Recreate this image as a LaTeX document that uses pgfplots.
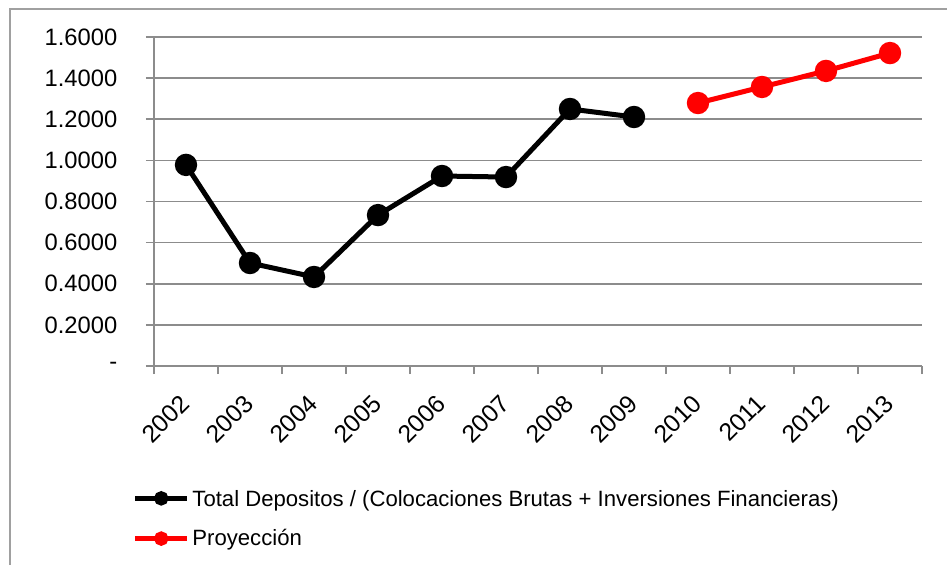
\documentclass[border=0pt]{standalone}
\usepackage{pgfplots}
\pgfplotsset{compat=1.18}
\usepackage{fontspec}
\setmainfont{Liberation Sans}
\definecolor{gridgray}{HTML}{8C8C8C}
\definecolor{framegray}{HTML}{A0A0A0}
\begin{document}
\begin{tikzpicture}
\path[use as bounding box] (0pt,0pt) rectangle (710.25pt,-423.75pt);
\draw[framegray, line width=1.2pt] (7.5pt,-423.75pt) -- (7.5pt,-6.75pt) -- (710.25pt,-6.75pt);
\begin{axis}[
  at={(115.5pt,-274.5pt)}, anchor=south west,
  scale only axis, width=576pt, height=246.75pt,
  xmin=-0.5, xmax=11.5, ymin=0, ymax=1.6,
  axis x line=bottom, axis y line=left,
  axis line style={gridgray, line width=1.2pt, -},
  xtick={0,...,11},
  xticklabels={2002,2003,2004,2005,2006,2007,2008,2009,2010,2011,2012,2013},
  minor xtick={-0.5,0.5,...,11.5},
  major x tick style={draw=none},
  minor tick length=6pt,
  minor x tick style={gridgray, line width=1.2pt},
  tick align=outside,
  ytick={0,0.2,...,1.6},
  yticklabels={-,0.2000,0.4000,0.6000,0.8000,1.0000,1.2000,1.4000,1.6000},
  ytick style={gridgray, line width=1.2pt},
  major tick length=6pt,
  ymajorgrids, grid style={gridgray, line width=1.2pt},
  yticklabel style={font=\fontsize{17.8}{20}\selectfont, anchor=east, xshift=-18pt},
  xticklabel style={font=\fontsize{18.5}{20}\selectfont, anchor=east, xshift=1.8pt, yshift=-16.5pt, rotate=45},
  clip=false,
  legend style={at={(-0.028,-0.369)}, anchor=north west, draw=none, fill=none,
    font=\fontsize{16.6}{18}\selectfont, row sep=13.3pt, inner sep=0pt,
    /tikz/every even column/.append style={column sep=0pt}},
  legend cell align=left,
  legend image code/.code={
    \draw[#1, mark=none, line width=3.75pt] (0pt,0pt) -- (39pt,0pt);
    \fill[#1] (19.5pt,0pt) circle (3.5pt);
  },
]
\addplot[black, line width=3.75pt, mark=*, mark size=6.5pt, mark options={solid}]
  coordinates {(0,0.978) (1,0.501) (2,0.433) (3,0.734) (4,0.924) (5,0.919) (6,1.250) (7,1.211)};
\addlegendentry[text depth=0pt, xshift=-3pt]{Total Depositos / (Colocaciones Brutas + Inversiones Financieras)}
\addplot[red, line width=3.75pt, mark=*, mark size=6.5pt, mark options={solid}]
  coordinates {(8,1.279) (9,1.357) (10,1.435) (11,1.522)};
\addlegendentry[xshift=-3pt]{Proyección}
\end{axis}
\end{tikzpicture}
\end{document}
